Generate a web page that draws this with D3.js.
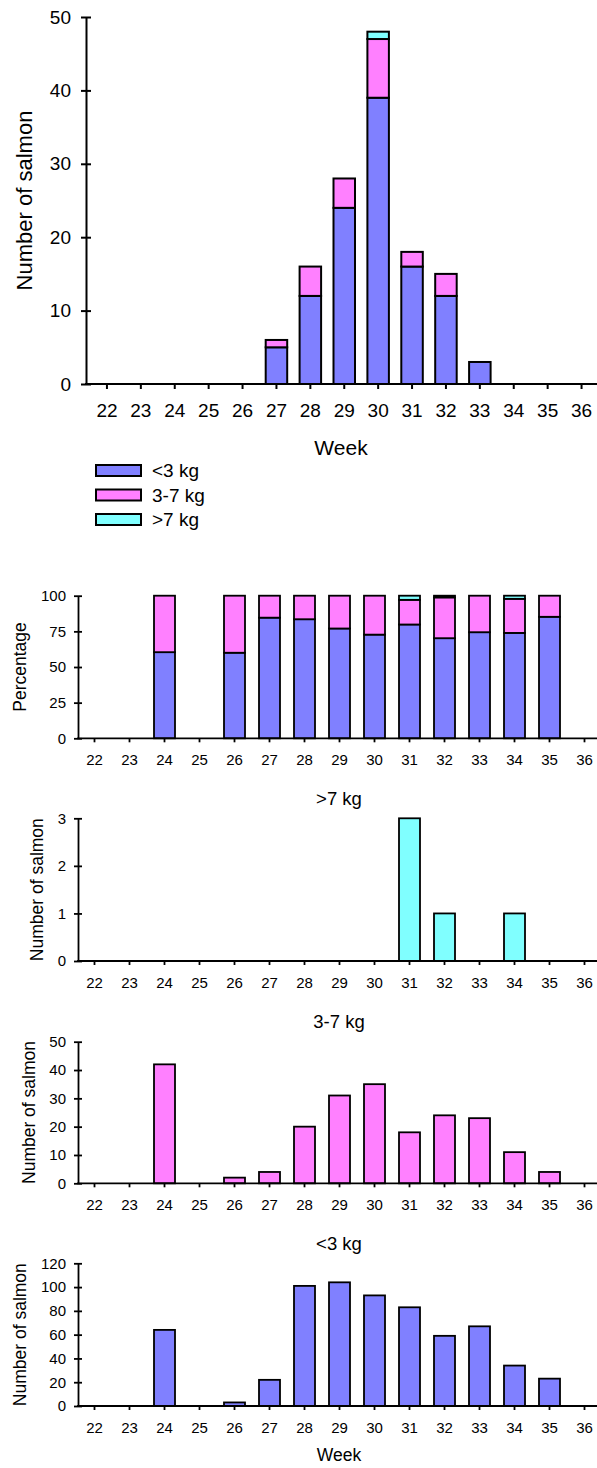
<!DOCTYPE html>
<html><head><meta charset="utf-8">
<script src="https://cdn.jsdelivr.net/npm/d3@7"></script>
<style>
body{margin:0;background:#fff}
svg{display:block}
text{font-family:"Liberation Sans",Arial,sans-serif;fill:#000}
</style>
</head><body>
<svg id="c" width="597" height="1468"></svg>
<script>
// ---------- DATA ----------
const weeks = ["22","23","24","25","26","27","28","29","30","31","32","33","34","35","36"];
const seriesNames = ["<3 kg","3-7 kg",">7 kg"];

// Top stacked chart (number of salmon)
const topSmall = [0,0,0,0,0,5,12,24,39,16,12,3,0,0,0];
const topMid   = [0,0,0,0,0,1,4,4,8,2,3,0,0,0,0];
const topLarge = [0,0,0,0,0,0,0,0,1,0,0,0,0,0,0];

// Percentage stacked chart
const pctSmall = [0,0,60.4,0,60,84.6,83.5,77.0,72.7,79.8,70.2,74.4,73.9,85.2,0];
const pctMid   = [0,0,39.6,0,40,15.4,16.5,23.0,27.3,17.3,28.6,25.6,23.9,14.8,0];
const pctLarge = [0,0,0,0,0,0,0,0,0,2.9,1.2,0,2.2,0,0];

// Single-class charts
const countLarge = [0,0,0,0,0,0,0,0,0,3,1,0,1,0,0];
const countMid   = [0,0,42,0,2,4,20,31,35,18,24,23,11,4,0];
const countSmall = [0,0,64,0,3,22,101,104,93,83,59,67,34,23,0];

// Tick labels
const yTicksTop   = [0,10,20,30,40,50];
const yTicksPct   = [0,25,50,75,100];
const yTicksLarge = [0,1,2,3];
const yTicksMid   = [0,10,20,30,40,50];
const yTicksSmall = [0,20,40,60,80,100,120];

// ---------- STYLE ----------
const colors = ["#8080FF","#FF80FF","#80FFFF"];
const svg = d3.select("#c");
const W = 597;

function chart(cfg){
  const g = svg.append("g");
  const x = d3.scaleBand().domain(weeks)
    .range([cfg.bandStart, cfg.bandStart + cfg.step*weeks.length]);
  const y = d3.scaleLinear().domain([0, d3.max(cfg.yTicks)]).range([cfg.bottom, cfg.top]);
  const rows = weeks.map((w,i)=>{const o={week:w}; cfg.series.forEach((s,k)=>o["s"+k]=s[i]); return o;});
  const keys = cfg.series.map((s,k)=>"s"+k);
  const layers = d3.stack().keys(keys)(rows);
  layers.forEach((layer,k)=>{
    g.append("g").selectAll("rect")
      .data(layer.filter(d=>d[1]-d[0]>0))
      .join("rect")
      .attr("x", d=>x(d.data.week)+x.bandwidth()/2-cfg.barW/2)
      .attr("y", d=>y(d[1]))
      .attr("width", cfg.barW)
      .attr("height", d=>y(d[0])-y(d[1]))
      .attr("fill", cfg.colors[k])
      .attr("stroke","#000")
      .attr("stroke-width", cfg.sw);
  });

  // Y axis
  const ya = g.append("g").attr("transform",`translate(${cfg.axisX},0)`)
    .call(d3.axisLeft(y).tickValues(cfg.yTicks).tickFormat(d3.format("d"))
      .tickSize(cfg.tk).tickSizeOuter(0).tickPadding(cfg.ypad));
  ya.select(".domain").attr("stroke","#000").attr("stroke-width",cfg.aw);
  ya.selectAll(".tick line").attr("x1",cfg.tk).attr("stroke","#000").attr("stroke-width",cfg.aw);
  ya.selectAll(".tick text").attr("font-size",cfg.fs).attr("fill","#000");
  ya.attr("font-family",null);

  // X axis
  const xa = g.append("g").attr("transform",`translate(0,${cfg.bottom})`)
    .call(d3.axisBottom(x).tickSize(cfg.tkx).tickSizeOuter(0));
  xa.select(".domain").remove();
  xa.attr("font-family",null);
  xa.selectAll(".tick line").attr("stroke","#000").attr("stroke-width",cfg.aw);
  xa.selectAll(".tick text").attr("font-size",cfg.fs).attr("fill","#000")
    .attr("y",cfg.xLab).attr("dy","0.36em");
  g.append("line").attr("x1",cfg.axisX-cfg.aw/2).attr("x2",W)
    .attr("y1",cfg.bottom).attr("y2",cfg.bottom)
    .attr("stroke","#000").attr("stroke-width",cfg.aw);

  // Y title
  const cy = (cfg.top+cfg.bottom)/2;
  g.append("text").attr("transform",`translate(${cfg.yTitleX},${cy}) rotate(-90)`)
    .attr("text-anchor","middle").attr("dy","0.36em")
    .attr("font-size",cfg.yTitleFs).text(cfg.yTitle);

  if(cfg.title){
    g.append("text").attr("x",cfg.titleX).attr("y",cfg.top-20).attr("dy","0.36em")
      .attr("text-anchor","middle").attr("font-size",cfg.titleFs).text(cfg.title);
  }
  if(cfg.xTitle){
    g.append("text").attr("x",cfg.xTitleX).attr("y",cfg.xTitleY).attr("dy","0.36em")
      .attr("text-anchor","middle").attr("font-size",cfg.xTitleFs).text(cfg.xTitle);
  }
  return g;
}

// Top chart
chart({
  series:[topSmall,topMid,topLarge], colors:colors, yTicks:yTicksTop,
  axisX:86, top:17, bottom:384, bandStart:90, step:33.9, barW:21.5,
  sw:2, aw:2, tk:5, tkx:5, ypad:10, fs:19, xLab:26,
  yTitle:"Number of salmon", yTitleX:24, yTitleFs:22,
  xTitle:"Week", xTitleX:341, xTitleY:447, xTitleFs:21
});

// Legend
const leg = svg.append("g");
seriesNames.forEach((n,k)=>{
  const yy = 465 + k*24.5;
  leg.append("rect").attr("x",96).attr("y",yy).attr("width",45).attr("height",11)
    .attr("fill",colors[k]).attr("stroke","#000").attr("stroke-width",2);
  leg.append("text").attr("x",152).attr("y",yy+5.5).attr("dy","0.36em")
    .attr("font-size",19).text(n);
});

const common = {axisX:78, bandStart:77, step:35, barW:21, sw:1.8, aw:1.8, tk:4, tkx:4, ypad:8,
  fs:15, xLab:21.5, yTitleFs:17.5, titleFs:18.5, titleX:339, yTitle:"Number of salmon"};

chart(Object.assign({}, common, {
  series:[pctSmall,pctMid,pctLarge], colors:colors, yTicks:yTicksPct,
  top:595.7, bottom:738.3, yTitle:"Percentage", yTitleX:20
}));
chart(Object.assign({}, common, {
  series:[countLarge], colors:[colors[2]], yTicks:yTicksLarge,
  top:818.3, bottom:961, yTitleX:37, title:">7 kg"
}));
chart(Object.assign({}, common, {
  series:[countMid], colors:[colors[1]], yTicks:yTicksMid,
  top:1041.7, bottom:1183.3, yTitleX:28.5, title:"3-7 kg"
}));
chart(Object.assign({}, common, {
  series:[countSmall], colors:[colors[0]], yTicks:yTicksSmall,
  top:1263.3, bottom:1406, yTitleX:20, title:"<3 kg",
  xTitle:"Week", xTitleX:339, xTitleY:1455, xTitleFs:17.5
}));
</script>
</body></html>
